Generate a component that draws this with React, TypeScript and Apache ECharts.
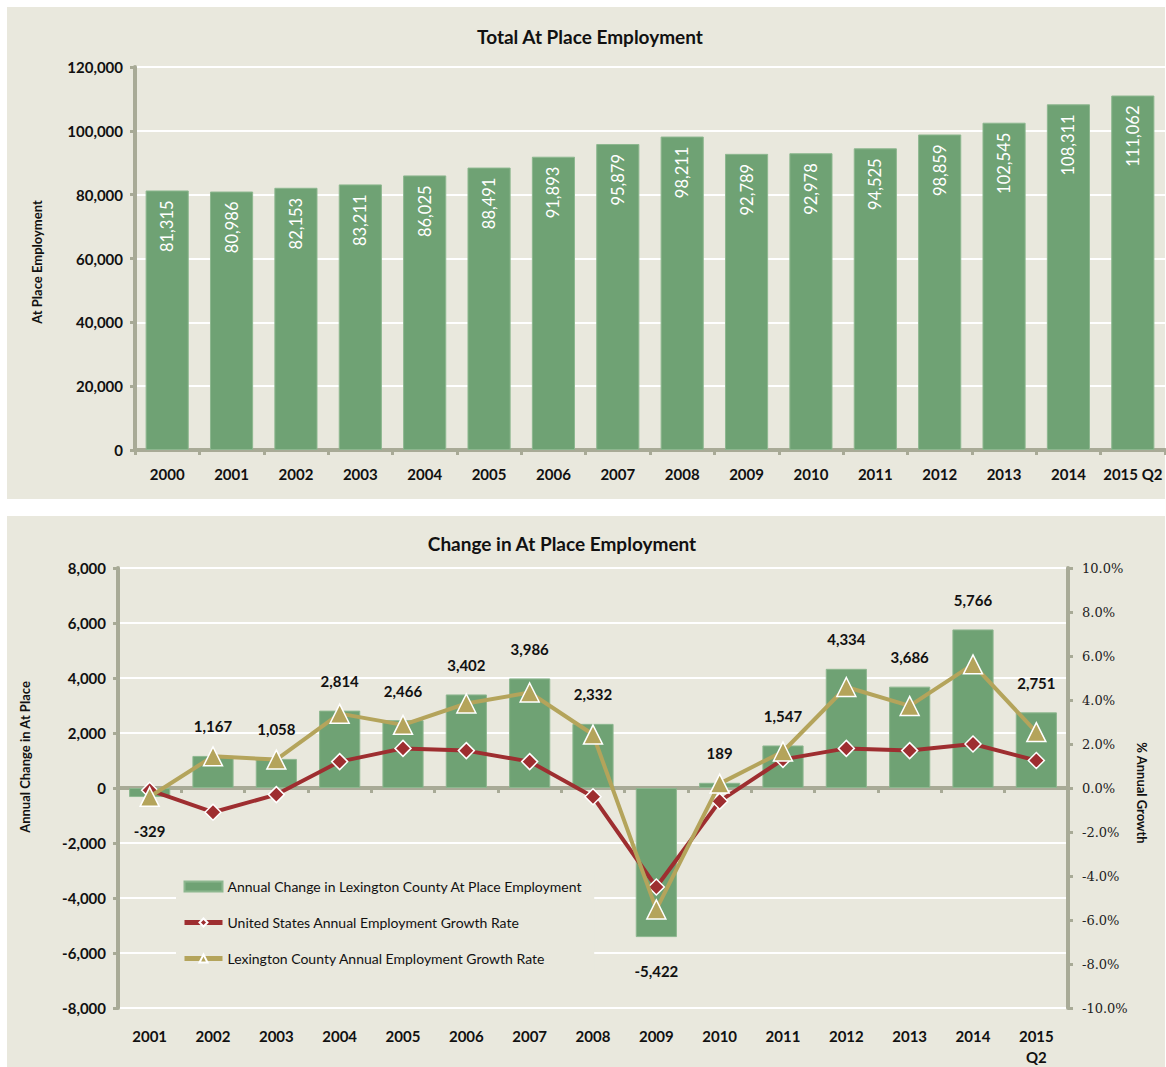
import React, { useEffect, useRef } from "react";
import * as echarts from "echarts";

const totalYears = ["2000", "2001", "2002", "2003", "2004", "2005", "2006", "2007", "2008", "2009", "2010", "2011", "2012", "2013", "2014", "2015 Q2"];
const totalEmployment = [81315, 80986, 82153, 83211, 86025, 88491, 91893, 95879, 98211, 92789, 92978, 94525, 98859, 102545, 108311, 111062];

const changeYears = ["2001", "2002", "2003", "2004", "2005", "2006", "2007", "2008", "2009", "2010", "2011", "2012", "2013", "2014", "2015\nQ2"];
const annualChange = [-329, 1167, 1058, 2814, 2466, 3402, 3986, 2332, -5422, 189, 1547, 4334, 3686, 5766, 2751];
const usGrowth = [-0.1, -1.1, -0.3, 1.2, 1.8, 1.7, 1.2, -0.4, -4.5, -0.6, 1.3, 1.8, 1.7, 2.0, 1.25];
const lexGrowth = [-0.4, 1.44, 1.29, 3.38, 2.87, 3.84, 4.34, 2.43, -5.52, 0.2, 1.66, 4.59, 3.73, 5.62, 2.54];

const legendNames = [
  "Annual Change in Lexington County At Place Employment",
  "United States Annual Employment Growth Rate",
  "Lexington County Annual Employment Growth Rate",
];

const BG = "#E9E8DD";
const GREEN = "#6FA274";
const AXIS = "#A8AA96";
const RED = "#9E2E30";
const GOLD = "#B4A45B";
const FONT = "Lato";
const SERIF = "DejaVu Serif";
const fmt = (v: number) => v.toLocaleString("en-US");

export default function App() {
  const ref = useRef<HTMLDivElement>(null);
  useEffect(() => {
    if (!ref.current) return;
    const chart = echarts.init(ref.current, null, { renderer: "svg" });
    const axisLine = { show: true, onZero: false, lineStyle: { color: AXIS, width: 4 } };
    const axisTick = { show: true, length: 5, lineStyle: { color: AXIS, width: 3 } };
    const boldLabel = { fontFamily: FONT, fontWeight: "bold", fontSize: 15, color: "#111" };
    const option: any = {
      animation: false,
      backgroundColor: "transparent",
      textStyle: { fontFamily: FONT },
      graphic: [
        { type: "text", x: 590, y: 36, style: { text: "Total At Place Employment", textAlign: "center", textVerticalAlign: "middle", fontFamily: FONT, fontWeight: "bold", fontSize: 19, fill: "#111" } },
        { type: "text", x: 562, y: 543, style: { text: "Change in At Place Employment", textAlign: "center", textVerticalAlign: "middle", fontFamily: FONT, fontWeight: "bold", fontSize: 19, fill: "#111" } },
        { type: "text", x: 37, y: 262, rotation: Math.PI / 2, style: { text: "At Place Employment", textAlign: "center", textVerticalAlign: "middle", fontFamily: FONT, fontWeight: "bold", fontSize: 13, fill: "#111" } },
        { type: "text", x: 25, y: 757, rotation: Math.PI / 2, style: { text: "Annual Change in At Place", textAlign: "center", textVerticalAlign: "middle", fontFamily: FONT, fontWeight: "bold", fontSize: 13, fill: "#111" } },
        { type: "text", x: 1142, y: 793, rotation: -Math.PI / 2, style: { text: "% Annual Growth", textAlign: "center", textVerticalAlign: "middle", fontFamily: FONT, fontWeight: "bold", fontSize: 13, fill: "#111" } },
      ],
      legend: {
        orient: "vertical",
        left: 176,
        top: 872,
        backgroundColor: BG,
        padding: [6, 12, 6, 6],
        itemWidth: 38,
        itemHeight: 10,
        itemGap: 19,
        lineStyle: { width: 5 },
        textStyle: { fontFamily: FONT, fontSize: 14, color: "#111", lineHeight: 17 },
        data: [{ name: legendNames[0], icon: "rect" }, { name: legendNames[1] }, { name: legendNames[2] }],
      },
      grid: [
        { left: 135, top: 67, width: 1030, height: 383 },
        { left: 118, top: 568, width: 950, height: 446 },
      ],
      xAxis: [
        {
          gridIndex: 0, type: "category", data: totalYears, position: "bottom",
          axisLine, axisTick,
          axisLabel: { ...boldLabel, margin: 16, interval: 0 },
        },
        {
          gridIndex: 1, type: "category", data: changeYears, position: "bottom",
          axisLine: { show: true, onZero: true, lineStyle: { color: AXIS, width: 4 } },
          axisTick,
          axisLabel: { show: false },
        },
        {
          gridIndex: 1, type: "category", data: changeYears, position: "bottom",
          axisLine: { show: false, onZero: false }, axisTick: { show: false },
          axisLabel: { ...boldLabel, margin: 17, interval: 0, lineHeight: 21 },
        },
      ],
      yAxis: [
        {
          gridIndex: 0, type: "value", min: 0, max: 120000, interval: 20000,
          axisLine, axisTick,
          axisLabel: { ...boldLabel, margin: 12, formatter: (v: number) => fmt(v) },
          splitLine: { show: true, lineStyle: { color: "#FFFFFF", width: 2 } },
        },
        {
          gridIndex: 1, type: "value", min: -8000, max: 8000, interval: 2000, position: "left",
          axisLine, axisTick,
          axisLabel: { ...boldLabel, margin: 12, formatter: (v: number) => fmt(v) },
          splitLine: { show: true, lineStyle: { color: "#FFFFFF", width: 2 } },
        },
        {
          gridIndex: 1, type: "value", min: -10, max: 10, interval: 2, position: "right",
          axisLine, axisTick,
          axisLabel: { fontFamily: SERIF, fontSize: 13, color: "#222", margin: 14, formatter: (v: number) => v.toFixed(1) + "%" },
          splitLine: { show: false },
        },
      ],
      series: [
        {
          type: "bar", xAxisIndex: 0, yAxisIndex: 0, data: totalEmployment, barWidth: "67%",
          itemStyle: { color: GREEN, borderColor: "#8DB78F", borderWidth: 1 },
          label: {
            show: true, position: "insideTop", rotate: 90, align: "right", verticalAlign: "middle",
            distance: 10, color: "#fff", fontFamily: FONT, fontSize: 16.5, formatter: (p: any) => fmt(p.value),
          },
        },
        {
          name: legendNames[0], type: "bar", xAxisIndex: 1, yAxisIndex: 1, barWidth: "65%",
          itemStyle: { color: GREEN, borderColor: "#8DB78F", borderWidth: 1 },
          data: annualChange.map((v) => ({
            value: v,
            label: { position: v < 0 ? "bottom" : "top", distance: v < 0 ? 26 : 22 },
          })),
          label: { show: true, ...boldLabel, fontSize: 15, formatter: (p: any) => fmt(p.value) },
        },
        {
          name: legendNames[1], type: "line", xAxisIndex: 1, yAxisIndex: 2, data: usGrowth,
          lineStyle: { color: RED, width: 4 }, itemStyle: { color: RED, borderColor: "#fff", borderWidth: 1.5 },
          symbol: "diamond", symbolSize: 16, z: 3,
        },
        {
          name: legendNames[2], type: "line", xAxisIndex: 1, yAxisIndex: 2, data: lexGrowth,
          lineStyle: { color: GOLD, width: 4 }, itemStyle: { color: GOLD, borderColor: "#fff", borderWidth: 1.5 },
          symbol: "triangle", symbolSize: 19, z: 4,
        },
      ],
    };
    chart.setOption(option);
    return () => chart.dispose();
  }, []);
  return (
    <div style={{ position: "fixed", left: 0, top: 0, width: 1166, height: 1067, background: "#fff" }}>
      <div style={{ position: "absolute", left: 7, top: 7, width: 1158, height: 492, background: BG }} />
      <div style={{ position: "absolute", left: 7, top: 516, width: 1158, height: 551, background: BG }} />
      <div ref={ref} style={{ position: "absolute", left: 0, top: 0, width: 1166, height: 1067 }} />
    </div>
  );
}
